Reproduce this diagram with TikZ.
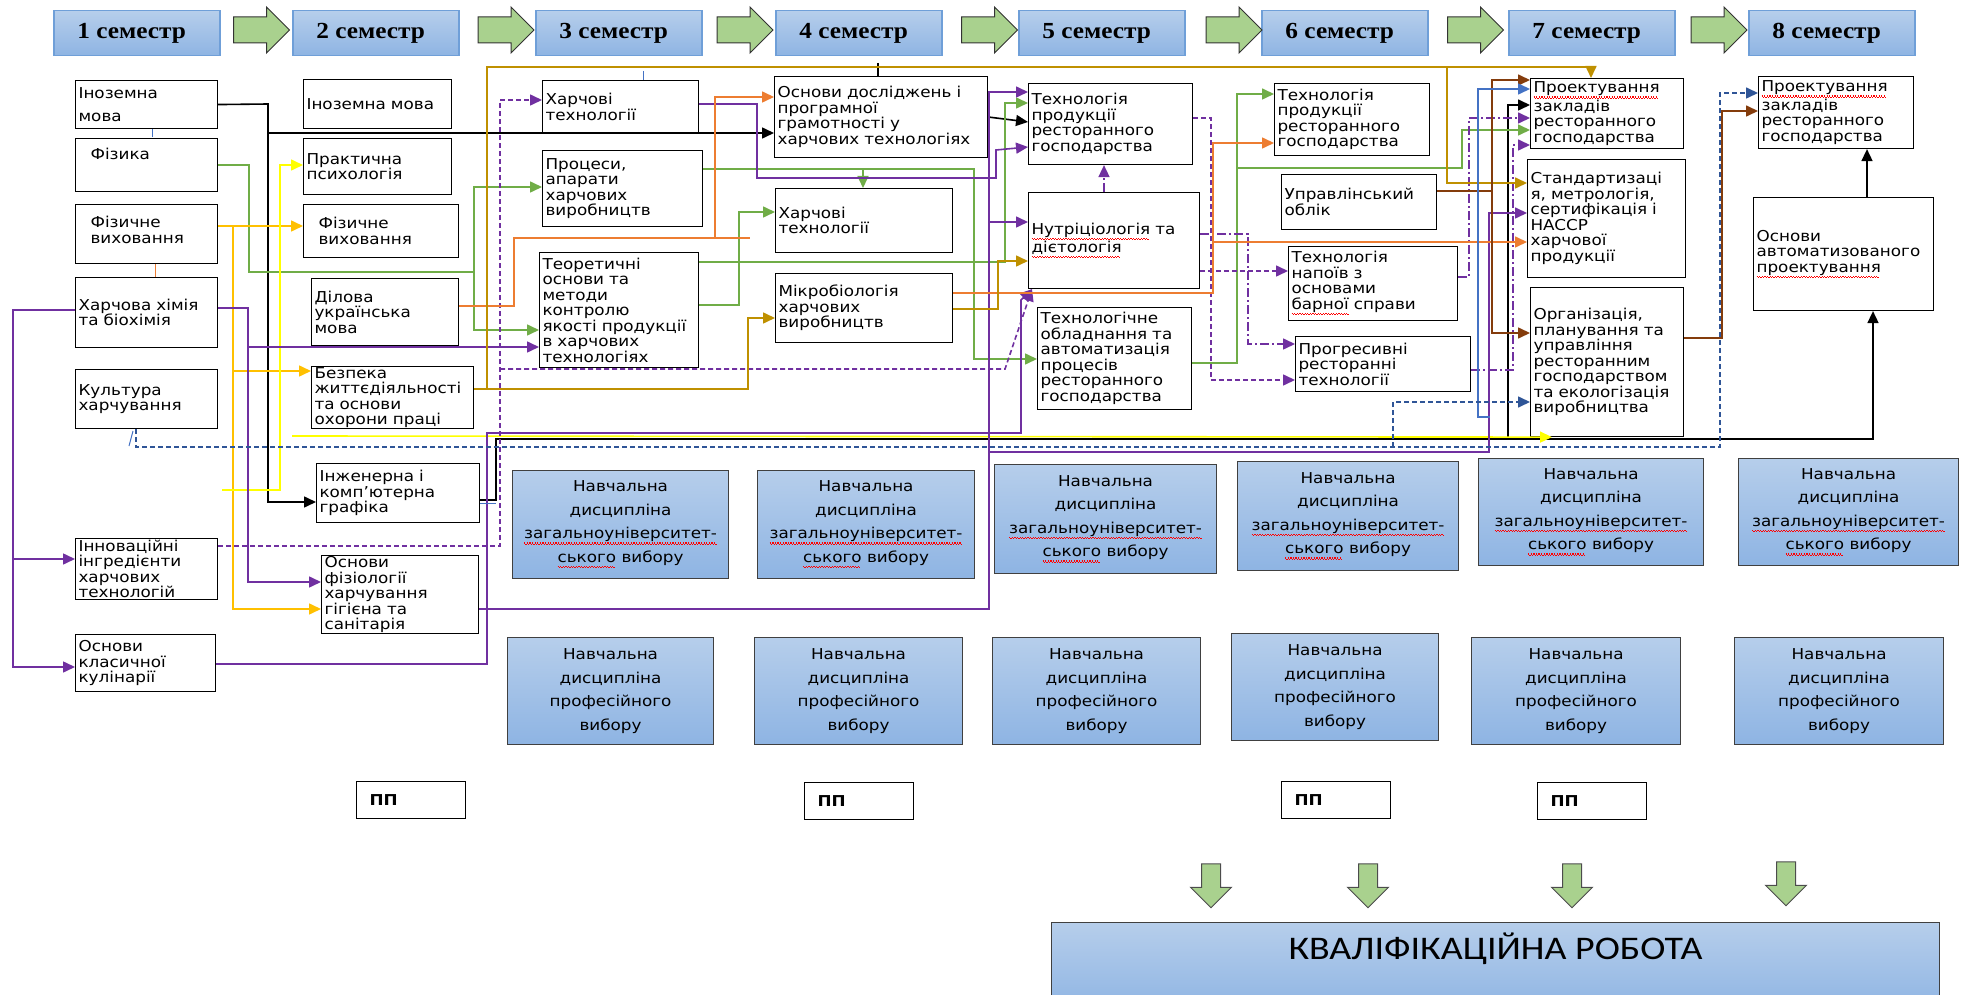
\documentclass[tikz,border=0pt]{standalone}
\usepackage{fontspec}
\setmainfont{DejaVu Sans}[FakeStretch=1.12]
\newfontfamily\semfont{Liberation Serif}[FakeStretch=1.1]
\newfontfamily\qualfont{Carlito}[FakeStretch=1.15]
\usetikzlibrary{arrows.meta,shapes.arrows}

\definecolor{cpurple}{HTML}{7030A0}
\definecolor{cgreen}{HTML}{70AD47}
\definecolor{camber}{HTML}{FFC000}
\definecolor{cyellow}{HTML}{FFFF00}
\definecolor{corange}{HTML}{ED7D31}
\definecolor{cgold}{HTML}{BF9000}
\definecolor{cbrown}{HTML}{843C0C}
\definecolor{cblue}{HTML}{4472C4}
\definecolor{cnavy}{HTML}{2F5597}
\definecolor{semTop}{HTML}{B6CEEB}
\definecolor{semBot}{HTML}{8EB4E3}
\definecolor{semEdge}{HTML}{6F9FD8}
\definecolor{arrowGreen}{HTML}{A9D18E}

\newcommand\boxfont{\fontsize{15pt}{15.5pt}\selectfont}
\newcommand\elecfont{\fontsize{15pt}{23.5pt}\selectfont}
% red spell-check wave under a word
\newcommand\sq[1]{\leavevmode\setbox0\hbox{#1}\rlap{\hbox to\wd0{\color{red}\leaders\hbox{\vrule width1.3pt height-3.6pt depth4.8pt\vrule width1.3pt height-4.8pt depth6pt}\hfill}}\box0\relax}

\begin{document}
\begin{tikzpicture}[x=1pt, y=-1pt,
  disc/.code 2 args={\pgfmathsetmacro\discw{#1-6}\tikzset{draw, line width=1.1pt, anchor=north west, align=left, inner xsep=3pt, inner ysep=0pt, font=\boxfont, minimum width=#1, minimum height=#2, text width=\discw pt}},
  elec/.style 2 args={draw=black!75, line width=1.1pt, anchor=north west, align=center, top color=semTop, bottom color=semBot, minimum width=#1, minimum height=#2, font=\elecfont},
  sem/.style={draw=semEdge, line width=1.5pt, anchor=north west, top color=semTop, bottom color=semBot, minimum width=166, minimum height=45, font=\semfont\bfseries\fontsize{23pt}{23pt}\selectfont},
  semarrow/.style={single arrow, draw=black!80, line width=1pt, fill=arrowGreen, minimum height=56, inner xsep=0pt, inner ysep=12.5pt, single arrow head extend=10},
  downarrow/.style={single arrow, shape border rotate=270, draw=black!70, line width=1pt, fill=arrowGreen, minimum height=44, inner sep=9pt, single arrow head extend=11},
  pp/.style={draw, line width=1pt, anchor=north west, minimum width=109, minimum height=37, align=left, text width=95pt, font=\bfseries\fontsize{15pt}{15pt}\selectfont},
  ln/.style={line width=1.6pt},
  arr/.style={line width=1.6pt, -{Triangle[length=12pt,width=11pt]}},
  dsh/.style={dash pattern=on 5pt off 3pt},
  ddot/.style={dash pattern=on 9pt off 3pt on 2pt off 3pt}]

\useasboundingbox (0,0) rectangle (1966,995);

% semesters
\node[sem] (s1) at (53,10) {1 семестр\hspace*{10pt}};
\node[sem] (s2) at (292,10) {2 семестр\hspace*{10pt}};
\node[sem] (s3) at (535,10) {3 семестр\hspace*{10pt}};
\node[sem] (s4) at (775,10) {4 семестр\hspace*{10pt}};
\node[sem] (s5) at (1018,10) {5 семестр\hspace*{10pt}};
\node[sem] (s6) at (1261,10) {6 семестр\hspace*{10pt}};
\node[sem] (s7) at (1508,10) {7 семестр\hspace*{10pt}};
\node[sem] (s8) at (1748,10) {8 семестр\hspace*{10pt}};
\node[semarrow] (a12) at (255,30) {};
\node[semarrow] (a23) at (499.5,30) {};
\node[semarrow] (a34) at (738.5,30) {};
\node[semarrow] (a45) at (983,30) {};
\node[semarrow] (a56) at (1227.5,30) {};
\node[semarrow] (a67) at (1469,30) {};
\node[semarrow] (a78) at (1712.5,30) {};

% 1 semester
\node[disc={142}{48}] (in1) at (75,80) {Іноземна\\[7pt]мова};
\node[disc={142}{53}, text depth=23pt] (phys) at (75,138) {\hspace*{12pt}Фізика};
\node[disc={142}{59}, text depth=24pt] (pe1) at (75,204) {\hspace*{12pt}Фізичне\\\hspace*{12pt}виховання};
\node[disc={142}{70}] (chem) at (75,277) {Харчова хімія\\та біохімія};
\node[disc={142}{59}] (cult) at (75,369) {Культура\\харчування};
\node[disc={142}{61}] (innov) at (75,538) {Інноваційні\\інгредієнти\\харчових\\технологій};
\node[disc={140}{57}] (culin) at (75,634) {Основи\\класичної\\кулінарії};

% 2 semester
\node[disc={148}{49}] (in2) at (303,79) {Іноземна мова};
\node[disc={148}{56}] (psych) at (303,138) {Практична\\психологія};
\node[disc={155}{53}] (pe2) at (303,204) {\hspace*{12pt}Фізичне\\\hspace*{12pt}виховання};
\node[disc={147}{67}] (ukr) at (311,278) {Ділова\\українська\\мова};
\node[disc={162}{62}] (bzh) at (311,366) {Безпека\\життєдіяльності\\та основи\\охорони праці};
\node[disc={163}{59}] (graph) at (316,463) {Інженерна і\\комп’ютерна\\графіка};
\node[disc={157}{78}] (fiziol) at (321,555) {Основи\\фізіології\\харчування\\гігієна та\\санітарія};

% 3 semester
\node[disc={156}{53}] (ht3) at (542,80) {Харчові\\технології};
\node[disc={160}{76}] (proc) at (542,150) {Процеси,\\апарати\\харчових\\виробництв};
\node[disc={159}{115}] (teor) at (539,252) {Теоретичні\\основи та\\методи\\контролю\\якості продукції\\в харчових\\технологіях};

% 4 semester
\node[disc={213}{81}] (osn) at (774,76) {Основи досліджень і\\програмної\\грамотності у\\харчових технологіях};
\node[disc={177}{64}] (ht4) at (775,188) {Харчові\\технології};
\node[disc={177}{69}] (micro) at (775,273) {Мікробіологія\\харчових\\виробництв};

% 5 semester
\node[disc={164}{81}] (tprg5) at (1028,83) {Технологія\\продукції\\ресторанного\\господарства};
\node[disc={171}{96}] (nutr) at (1028,192) {\sq{Нутріціологія} та\\\sq{дієтологія}};
\node[disc={154}{102}] (tobl) at (1037,307) {Технологічне\\обладнання та\\автоматизація\\процесів\\ресторанного\\господарства};

% 6 semester
\node[disc={155}{72}] (tprg6) at (1274,83) {Технологія\\продукції\\ресторанного\\господарства};
\node[disc={155}{55}] (uprob) at (1281,174) {Управлінський\\облік};
\node[disc={169}{74}] (napoi) at (1288,246) {Технологія\\напоїв з\\основами\\\sq{барної} справи};
\node[disc={175}{55}] (progr) at (1295,336) {Прогресивні\\ресторанні\\технології};

% 7 semester
\node[disc={153}{70}] (proekt7) at (1530,78) {\sq{Проектування}\\закладів\\ресторанного\\господарства};
\node[disc={158}{118}] (stand) at (1527,159) {Стандартизаці\\я, метрологія,\\сертифікація і\\HACCP\\харчової\\продукції};
\node[disc={153}{149}] (org) at (1530,287) {Організація,\\планування та\\управління\\ресторанним\\господарством\\та екологізація\\виробництва};

% 8 semester
\node[disc={155}{72}] (proekt8) at (1758,76) {\sq{Проектування}\\закладів\\ресторанного\\господарства};
\node[disc={180}{113}] (avtom) at (1753,197) {Основи\\автоматизованого\\\sq{проектування}};

% elective disciplines
\node[elec={216}{108}] (ua1) at (512,470) {Навчальна\\дисципліна\\\sq{загальноуніверситет-}\\\sq{ського} вибору};
\node[elec={217}{108}] (ua2) at (757,470) {Навчальна\\дисципліна\\\sq{загальноуніверситет-}\\\sq{ського} вибору};
\node[elec={222}{109}] (ua3) at (994,464) {Навчальна\\дисципліна\\\sq{загальноуніверситет-}\\\sq{ського} вибору};
\node[elec={221}{109}] (ua4) at (1237,461) {Навчальна\\дисципліна\\\sq{загальноуніверситет-}\\\sq{ського} вибору};
\node[elec={225}{107}] (ua5) at (1478,458) {Навчальна\\дисципліна\\\sq{загальноуніверситет-}\\\sq{ського} вибору};
\node[elec={220}{107}] (ua6) at (1738,458) {Навчальна\\дисципліна\\\sq{загальноуніверситет-}\\\sq{ського} вибору};
\node[elec={206}{107}] (pr1) at (507,637) {Навчальна\\дисципліна\\професійного\\вибору};
\node[elec={208}{107}] (pr2) at (754,637) {Навчальна\\дисципліна\\професійного\\вибору};
\node[elec={208}{107}] (pr3) at (992,637) {Навчальна\\дисципліна\\професійного\\вибору};
\node[elec={207}{107}] (pr4) at (1231,633) {Навчальна\\дисципліна\\професійного\\вибору};
\node[elec={209}{107}] (pr5) at (1471,637) {Навчальна\\дисципліна\\професійного\\вибору};
\node[elec={209}{107}] (pr6) at (1734,637) {Навчальна\\дисципліна\\професійного\\вибору};

% practice
\node[pp] (pp1) at (356,781) {\hspace*{6pt}ПП};
\node[pp] (pp2) at (804,782) {\hspace*{6pt}ПП};
\node[pp] (pp3) at (1281,781) {\hspace*{6pt}ПП};
\node[pp] (pp4) at (1537,782) {\hspace*{6pt}ПП};

\node[downarrow] (d1) at (1211,881) {};
\node[downarrow] (d2) at (1368,881) {};
\node[downarrow] (d3) at (1572,881) {};
\node[downarrow] (d4) at (1786,879) {};
\node[elec={888}{90}, text height=24pt, text depth=40pt, font=\qualfont\fontsize{33pt}{33pt}\selectfont] (qual) at (1051,922) {КВАЛІФІКАЦІЙНА РОБОТА};

% black
\draw[ln] (in1.east) -- (268,104) -- (268,133);
\draw[arr] (268,133) |- (graph.west |- 0,502);
\draw[arr] (268,133) -- (osn.west |- 0,133);
\draw[arr] (graph.east |- 0,500) -- (496,500) -- (496,439) -- (1873,439) -- (avtom.south -| 1873,0);
\draw[arr] (1508,439) |- (proekt7.west |- 0,105);
\draw[arr] (avtom.north -| 1867,0) -- (proekt8.south -| 1867,0);
\draw[ln] (878,63) -- (osn.north -| 878,0);
\draw[arr] (osn.east |- 0,117) -- (tprg5.west |- 0,122);

% green
\draw[ln,cgreen] (phys.east |- 0,165) -| (249,272) -- (474,272);
\draw[arr,cgreen] (474,272) |- (proc.west |- 0,187);
\draw[arr,cgreen] (474,272) |- (teor.west |- 0,330);
\draw[arr,cgreen] (proc.east |- 0,169) -| (974,359) -- (tobl.west |- 0,359);
\draw[arr,cgreen] (863,169) -- (ht4.north -| 863,0);
\draw[arr,cgreen] (teor.east |- 0,262) -| (1005,103) -- (tprg5.west |- 0,103);
\draw[arr,cgreen] (teor.east |- 0,305) -| (739,212) -- (ht4.west |- 0,212);
\draw[arr,cgreen] (tobl.east |- 0,363) -| (1237,94) -- (tprg6.west |- 0,94);
\draw[arr,cgreen] (1237,168) -| (1462,130) -- (proekt7.west |- 0,130);

% amber
\draw[arr,camber] (pe1.east |- 0,226) -- (pe2.west |- 0,226);
\draw[arr,camber] (233,226) |- (fiziol.west |- 0,609);
\draw[arr,camber] (233,371) -- (bzh.west |- 0,371);

% yellow
\coordinate (ystart) at (222,490);
\coordinate (ybar) at (292,436);
\draw[arr,cyellow] (ystart) -| (280,165) -- (psych.west |- 0,165);
\draw[arr,cyellow] (ybar) -- (org.south -| 1552,0);

% purple
\draw[arr,cpurple] (chem.east |- 0,308) -| (248,582) -- (fiziol.west |- 0,582);
\draw[arr,cpurple] (248,347) -- (teor.west |- 0,347);
\draw[arr,cpurple] (chem.west |- 0,310) -| (13,667) -- (culin.west |- 0,667);
\draw[arr,cpurple] (13,559) -- (innov.west |- 0,559);
\draw[arr,cpurple] (ht3.east |- 0,104) -| (757,178) -| (996,150) -- (tprg5.west |- 0,147);
\draw[arr,cpurple] (fiziol.east |- 0,609) -| (989,92) -- (tprg5.west |- 0,92);
\draw[arr,cpurple] (989,222) -- (nutr.west |- 0,222);
\draw[arr,cpurple] (989,452) -| (1489,213) -- (stand.west |- 0,213);
\draw[arr,cpurple] (culin.east |- 0,664) -| (487,433) -| (1021,300) -- ([xshift=4pt]nutr.south west);
\draw[arr,cpurple,dsh] (innov.east |- 0,546) -| (500,100) -- (ht3.west |- 0,100);
\draw[arr,cpurple,dsh] (500,369) -- (1005,369) -- ([xshift=4pt]nutr.south west);
\draw[arr,cpurple,dsh] (tprg5.east |- 0,118) -| (1211,380) -- (progr.west |- 0,380);
\draw[arr,cpurple,dsh] (nutr.east |- 0,271) -- (napoi.west |- 0,271);
\draw[arr,cpurple,ddot] (nutr.north -| 1104,0) -- (tprg5.south -| 1104,0);
\draw[arr,cpurple,ddot] (nutr.east |- 0,234) -| (1248,344) -- (progr.west |- 0,344);
\draw[arr,cpurple,ddot] (napoi.east |- 0,277) -| (1469,118) -- (proekt7.west |- 0,118);
\draw[arr,cpurple,ddot] (progr.east |- 0,370) -| (1513,145) -- (proekt7.west |- 0,145);

% orange
\draw[arr,corange] (ukr.east |- 0,306) -| (514,238) -| (715,97) -- (osn.west |- 0,97);
\draw[ln,corange] (715,238) -- (750,238);
\draw[arr,corange] (micro.east |- 0,293) -| (1213,143) -- (tprg6.west |- 0,143);
\draw[arr,corange] (1213,242) -- (stand.west |- 0,242);

% gold
\draw[arr,cgold] (bzh.east |- 0,389) -- (748,389) |- (micro.west |- 0,318);
\draw[arr,cgold] (487,389) |- (1591,67) -- (proekt7.north -| 1591,0);
\draw[arr,cgold] (micro.east |- 0,309) -| (998,261) -- (nutr.west |- 0,261);
\draw[arr,cgold] (1447,67) |- (stand.west |- 0,183);

% brown
\draw[arr,cbrown] (uprob.east |- 0,191) -| (1492,333) -- (org.west |- 0,333);
\draw[arr,cbrown] (1492,191) |- (proekt7.west |- 0,80);
\draw[arr,cbrown] (org.east |- 0,338) -| (1722,111) -- (proekt8.west |- 0,111);

% blue
\draw[arr,cblue] (1490,417) -| (1478,89) -- (proekt7.west |- 0,89);
\draw[arr,cnavy,dsh] (cult.south -| 136,0) |- (1720,447) -- (1720,93) -- (proekt8.west |- 0,93);
\draw[arr,cnavy,dsh] (1393,447) |- (org.west |- 0,402);

% small marks
\draw[cblue, line width=1pt] (in1.south -| 152,0) -- (152,137);
\draw[corange, line width=1pt] (pe1.south -| 155,0) -- (chem.north -| 155,0);
\draw[cblue, line width=1pt] (129,446) -- (133,431);
\draw[cblue, line width=1pt] (643,71) -- (ht3.north -| 643,0);
\draw[cblue, line width=1pt] (graph.east |- 0,503) -- (496,503);
\end{tikzpicture}
\end{document}
